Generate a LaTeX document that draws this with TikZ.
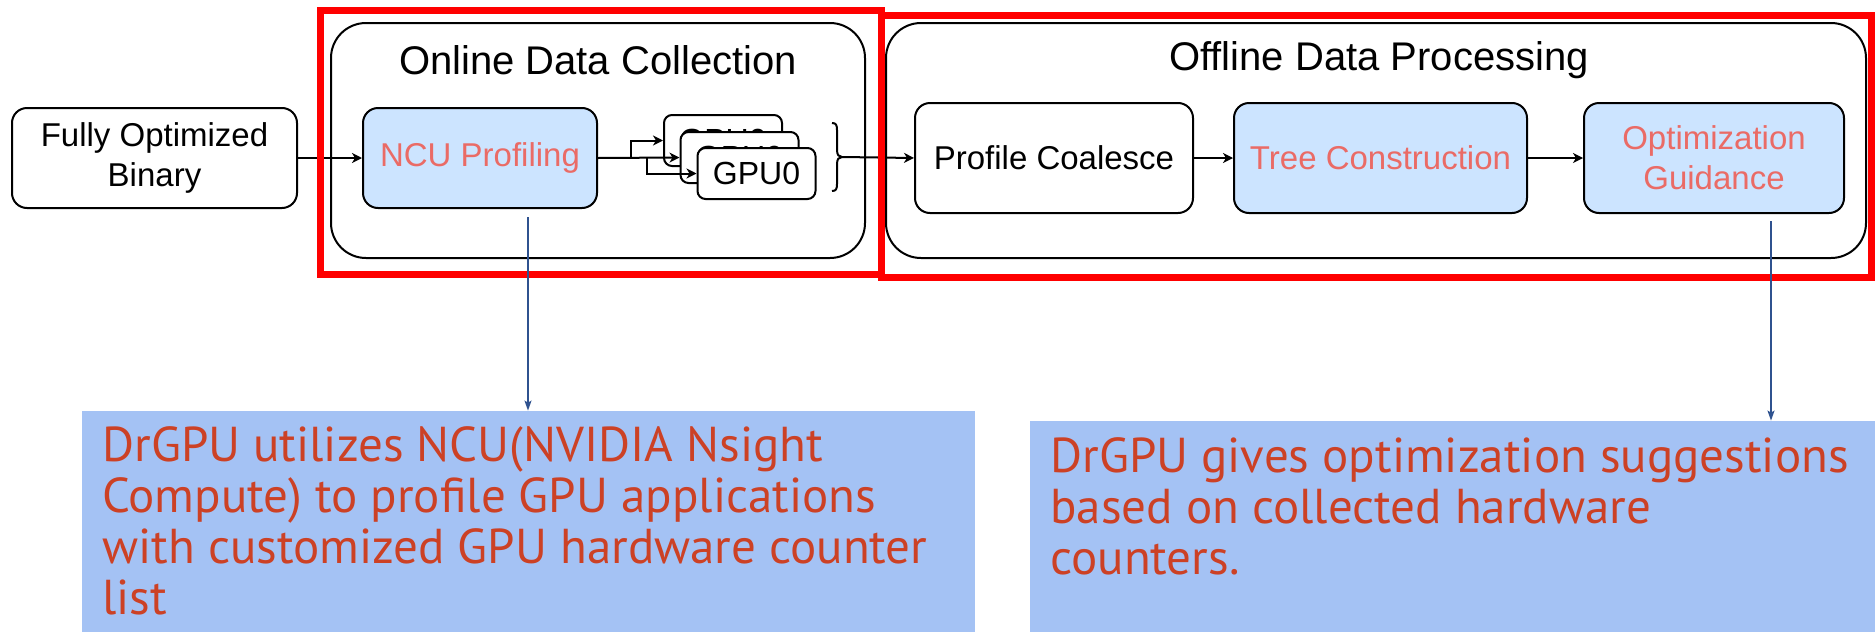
\documentclass[tikz,border=0pt]{standalone}
\usepackage{fontspec}
\setmainfont{Liberation Sans}
\newfontfamily\notefont{PT Sans}
\usetikzlibrary{arrows.meta,calc}
\definecolor{boxblue}{RGB}{204,228,255}
\definecolor{pinktext}{RGB}{234,107,102}
\definecolor{notefill}{RGB}{164,194,244}
\definecolor{notetext}{RGB}{204,65,37}
\definecolor{linkblue}{RGB}{47,82,143}
\begin{document}
\begin{tikzpicture}[x=0.5pt,y=-0.5pt,
  stepbox/.style={draw, rounded corners=7.5pt, line width=1pt, inner sep=0pt, align=center,
    font=\fontsize{16.5}{20}\selectfont},
  hibox/.style={stepbox, fill=boxblue, text=pinktext},
  groupbox/.style={draw, rounded corners=17.5pt, line width=1pt, inner sep=0pt},
  gpubox/.style={draw, fill=white, rounded corners=4pt, line width=1pt, inner sep=0pt,
    minimum width=59pt, minimum height=25.5pt, font=\fontsize{16}{19}\selectfont},
  titletext/.style={font=\fontsize{20}{24}\selectfont},
  redframe/.style={draw=red, line width=3.5pt, inner sep=0pt},
  arr/.style={-{Stealth[length=5pt,width=5pt,inset=1.5pt]}, line width=1pt},
  bluearr/.style={-{Stealth[length=5pt,width=3.5pt,inset=1pt]}, line width=0.75pt, draw=linkblue},
  notebox/.style={fill=notefill, inner sep=0pt},
  notetextstyle/.style={text=notetext, inner sep=0pt, align=left, anchor=base west,
    font=\notefont\fontsize{24.5}{25.5}\selectfont}
]
\useasboundingbox (0,0) rectangle (1875,632);

% group containers
\node[groupbox, minimum width=267pt, minimum height=117.5pt] (online) at (598,140.5) {};
\node[titletext] (ontitle) at (598,60) {Online Data Collection};
\node[groupbox, minimum width=490pt, minimum height=117.5pt] (offline) at (1376,140.5) {};
\node[titletext] (offtitle) at (1379,60) {Offline Data Processing};

% step boxes
\node[stepbox, minimum width=142.5pt, minimum height=50pt] (fob) at (154.5,158) {Fully Optimized\\Binary};
\node[hibox, minimum width=117pt, minimum height=50pt] (ncu) at (480,158) {NCU Profiling};
\node[stepbox, minimum width=139pt, minimum height=55pt] (pc) at (1054,158) {Profile Coalesce};
\node[hibox, minimum width=146.5pt, minimum height=55pt] (tc) at (1380.5,158) {Tree Construction};
\node[hibox, minimum width=130pt, minimum height=55pt] (og) at (1714,158) {Optimization\\Guidance};

% GPU stack
\node[gpubox] (gpu1) at (723,140.5) {GPU0};
\node[gpubox] (gpu2) at (739.5,157.5) {GPU0};
\node[gpubox] (gpu3) at (756.5,173.5) {GPU0};

% arrows
\draw[arr] (fob.east) -- (ncu.west);
\coordinate (b1) at ($(ncu.east)+(33,0)$);
\coordinate (b2) at ($(ncu.east)+(49,0)$);
\draw[arr] (ncu.east) -- (gpu2.west);
\draw[arr] (b1) |- (gpu1.west);
\draw[arr] (b2) |- (gpu3.west);

% brace
\coordinate (bt) at (842,157);
\draw[line width=1pt] (832,123) .. controls (836,123) and (837,125) .. (837,130) -- (837,150)
  .. controls (837,155) and (839,157) .. (bt)
  .. controls (839,157) and (837,159) .. (837,164) -- (837,184)
  .. controls (837,189) and (836,191) .. (832,191);
\draw[arr] (bt) -- (pc.west);
\draw[arr] (pc.east) -- (tc.west);
\draw[arr] (tc.east) -- (og.west);

% red frames
\node[redframe, minimum width=280.5pt, minimum height=132pt] (red1) at (600.5,142) {};
\node[redframe, minimum width=495pt, minimum height=131pt] (red2) at (1376,146) {};

% notes
\node[notebox, minimum width=446.5pt, minimum height=114.5pt] (note1) at (528.5,525.5) {};
\node[notebox, minimum width=425pt, minimum height=109.5pt] (note2) at (1455,530.5) {};
\node[notetextstyle] (t1) at (102,614) {DrGPU utilizes NCU(NVIDIA Nsight\\Compute) to profile GPU applications\\with customized GPU hardware counter\\list};
\node[notetextstyle] (t2) at (1050,574) {DrGPU gives optimization suggestions\\based on collected hardware\\counters.};

% links to notes
\coordinate (s1) at (528,217);
\coordinate (s2) at (1771,221);
\draw[bluearr] (s1) -- (s1 |- note1.north);
\draw[bluearr] (s2) -- (s2 |- note2.north);
\end{tikzpicture}
\end{document}
